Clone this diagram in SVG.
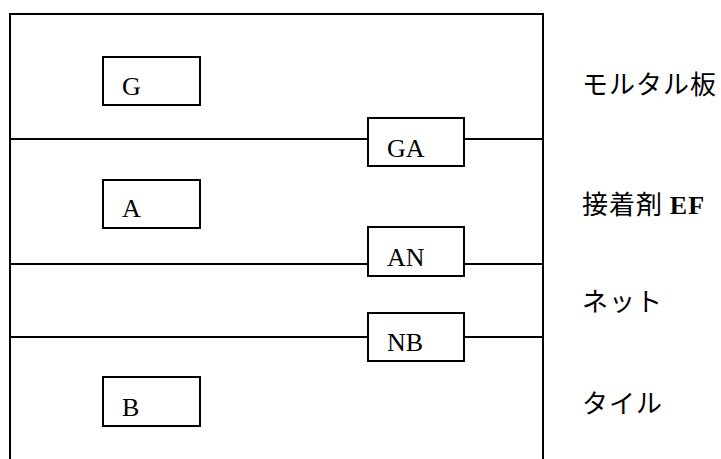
<svg xmlns="http://www.w3.org/2000/svg" width="721" height="459" viewBox="0 0 721 459">
<style>
.box{fill:#fff;stroke:#000;stroke-width:2}
.ln{stroke:#000;stroke-width:2;fill:none}
.t{font-family:"Liberation Serif","Times New Roman",serif;font-size:26px;fill:#000}
.j{font-family:"Noto Sans CJK JP","Liberation Serif",sans-serif;font-size:26px;fill:#000;letter-spacing:1px}
.b{font-family:"Liberation Serif",serif;font-weight:bold}
</style>
<rect width="721" height="459" fill="#fff"/>
<g id="connectors">
<polyline class="ln" points="10,460 10,14 543,14 543,460"/>
<line class="ln" x1="10" y1="139" x2="368" y2="139"/>
<line class="ln" x1="464" y1="139" x2="543" y2="139"/>
<line class="ln" x1="10" y1="264" x2="368" y2="264"/>
<line class="ln" x1="464" y1="264" x2="543" y2="264"/>
<line class="ln" x1="10" y1="337" x2="368" y2="337"/>
<line class="ln" x1="464" y1="337" x2="543" y2="337"/>
</g>
<g id="G"><rect class="box" x="103" y="57" width="97" height="48"/><text class="t" x="122" y="95">G</text></g>
<g id="A"><rect class="box" x="103" y="180" width="97" height="48"/><text class="t" x="122" y="217">A</text></g>
<g id="B"><rect class="box" x="103" y="377" width="97" height="49"/><text class="t" x="122" y="416">B</text></g>
<g id="GA"><rect class="box" x="368" y="118" width="96" height="48"/><text class="t" x="387" y="157">GA</text></g>
<g id="AN"><rect class="box" x="368" y="227" width="96" height="49"/><text class="t" x="387" y="266">AN</text></g>
<g id="NB"><rect class="box" x="368" y="313" width="96" height="48"/><text class="t" x="387" y="351">NB</text></g>
<g id="labels">
<text class="j" x="582" y="94">モルタル板</text>
<text class="j" x="582" y="214">接着剤 <tspan class="b">EF</tspan></text>
<text class="j" x="582" y="311">ネット</text>
<text class="j" x="582" y="413">タイル</text>
</g>
</svg>
